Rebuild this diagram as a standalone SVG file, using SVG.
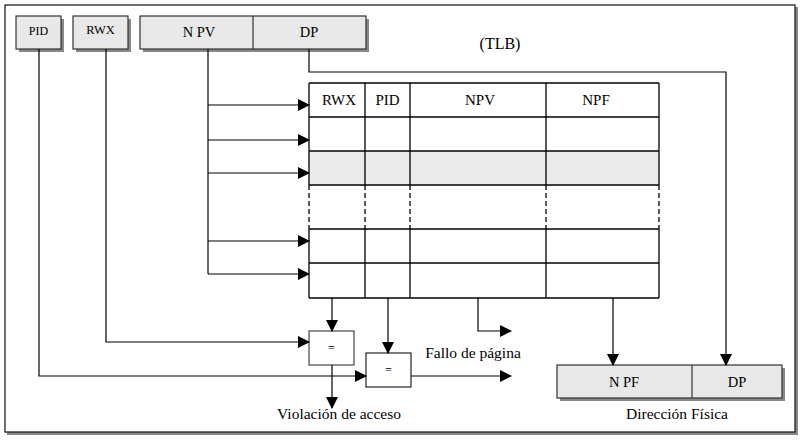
<svg xmlns="http://www.w3.org/2000/svg" width="803" height="441" viewBox="0 0 803 441">
<defs>
<marker id="ah" markerUnits="userSpaceOnUse" markerWidth="12" markerHeight="12" viewBox="0 0 12 12" refX="11" refY="6" orient="auto">
<path d="M0,0 L12,6 L0,12 Z" fill="#000"/>
</marker>
</defs>
<style>
.t{font-family:"Liberation Serif","Times New Roman",serif;fill:#000;text-anchor:middle}
.box{fill:#e8e8e8;stroke:#333;stroke-width:1.2}
.sh{fill:#888}
.ln{fill:none;stroke:#000;stroke-width:1.2}
.ar{fill:none;stroke:#000;stroke-width:1.2;marker-end:url(#ah)}
.cell{fill:none;stroke:#000;stroke-width:1.3}
</style>
<rect width="803" height="441" fill="#fff"/>
<g id="frame">
<rect x="7" y="7" width="791" height="428" class="sh"/>
<rect x="5" y="5" width="790" height="427" fill="#fff" stroke="#222" stroke-width="1.3"/>
</g>
<g id="pid">
<rect x="19" y="19" width="45" height="33" class="sh"/>
<rect x="16" y="16" width="45" height="33" class="box"/>
<text x="38.5" y="35" class="t" font-size="12">PID</text>
</g>
<g id="rwx">
<rect x="76" y="19" width="55" height="33" class="sh"/>
<rect x="73" y="16" width="55" height="33" class="box"/>
<text x="100.5" y="34" class="t" font-size="12.5">RWX</text>
</g>
<g id="vaddr">
<rect x="143" y="19" width="226" height="33" class="sh"/>
<rect x="140" y="16" width="226" height="33" class="box"/>
<line x1="253" y1="16" x2="253" y2="49" stroke="#333" stroke-width="1.2"/>
<text x="199" y="37" class="t" font-size="14.5">N PV</text>
<text x="309" y="37" class="t" font-size="14.5">DP</text>
</g>
<text x="500" y="49" class="t" font-size="16">(TLB)</text>
<g id="tlb">
<rect x="309" y="151" width="350" height="34" fill="#ebebeb"/>
<line x1="309" y1="83" x2="659" y2="83" class="cell"/>
<line x1="309" y1="117" x2="659" y2="117" class="cell"/>
<line x1="309" y1="151" x2="659" y2="151" class="cell" stroke="#444"/>
<line x1="309" y1="185" x2="659" y2="185" class="cell" stroke="#444"/>
<line x1="309" y1="229" x2="659" y2="229" class="cell" stroke="#444"/>
<line x1="309" y1="263" x2="659" y2="263" class="cell"/>
<line x1="309" y1="298" x2="659" y2="298" class="cell"/>
<g class="cell">
<path d="M309,83 V185 M365,83 V185 M410,83 V185 M546,83 V185 M659,83 V185"/>
<path d="M309,229 V298 M365,229 V298 M410,229 V298 M546,229 V298 M659,229 V298"/>
<path d="M309,185 V229 M365,185 V229 M410,185 V229 M546,185 V229 M659,185 V229" stroke-dasharray="5,3"/>
</g>
<text x="339" y="105" class="t" font-size="15">RWX</text>
<text x="387.5" y="105" class="t" font-size="15">PID</text>
<text x="480" y="105" class="t" font-size="15">NPV</text>
<text x="596" y="105" class="t" font-size="15">NPF</text>
</g>
<g id="cmp1">
<rect x="309" y="331" width="45" height="34" fill="#fff" stroke="#444" stroke-width="1.2"/>
<text x="331.5" y="352" class="t" font-size="12" fill="#555">=</text>
</g>
<g id="cmp2">
<rect x="366" y="353" width="45" height="34" fill="#fff" stroke="#222" stroke-width="1.2"/>
<text x="388.5" y="374" class="t" font-size="12" fill="#555">=</text>
</g>
<g id="paddr">
<rect x="560" y="368" width="225" height="33" class="sh"/>
<rect x="557" y="365" width="225" height="33" class="box"/>
<line x1="692" y1="365" x2="692" y2="398" stroke="#333" stroke-width="1.2"/>
<text x="624" y="387" class="t" font-size="14.5">N PF</text>
<text x="737" y="387" class="t" font-size="14.5">DP</text>
</g>
<g id="labels">
<text x="339" y="419" class="t" font-size="15.5">Violación de acceso</text>
<text x="473" y="358" class="t" font-size="15.5">Fallo de página</text>
<text x="677" y="419" class="t" font-size="15.5">Dirección Física</text>
</g>
<g id="connectors">
<path d="M208,49 V274" class="ln"/>
<path d="M208,105 H309" class="ar"/>
<path d="M208,140 H309" class="ar"/>
<path d="M208,173 H309" class="ar"/>
<path d="M208,241 H309" class="ar"/>
<path d="M208,274 H309" class="ar"/>
<path d="M309,49 V72 H726 V365" class="ar"/>
<path d="M106,49 V342 H309" class="ar"/>
<path d="M39,49 V376 H366" class="ar"/>
<path d="M332,298 V331" class="ar"/>
<path d="M388,298 V353" class="ar"/>
<path d="M478,298 V331 H511" class="ar"/>
<path d="M613,298 V365" class="ar"/>
<path d="M332,365 V408" class="ar"/>
<path d="M411,376 H511" class="ar"/>
</g>
</svg>
